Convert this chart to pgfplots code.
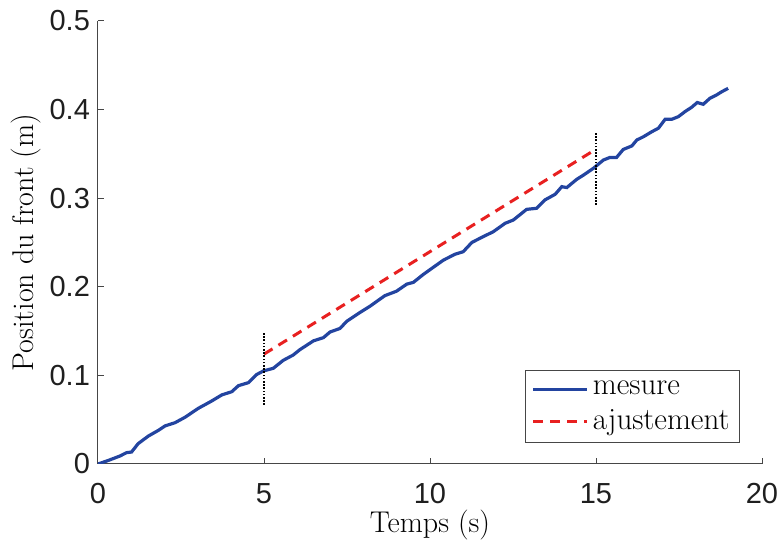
\documentclass[border=0pt]{standalone}
\usepackage{fontspec}
\usepackage{pgfplots}
\pgfplotsset{compat=1.18}
\newfontfamily\tickfont{Liberation Sans}
\definecolor{mesblue}{RGB}{35,68,160}
\definecolor{ajred}{RGB}{232,32,32}
\definecolor{axgray}{RGB}{70,70,70}

\begin{document}
\begin{tikzpicture}
\begin{axis}[
    name=ax,
    width=332pt, height=221.5pt,
    scale only axis,
    xmin=0, xmax=20, ymin=0, ymax=0.5,
    axis x line*=bottom, axis y line*=left,
    axis line style={axgray, line width=0.5pt},
    tick style={axgray, line width=0.5pt},
    tick align=inside,
    major tick length=3pt,
    xtick={0,5,10,15,20},
    ytick={0,0.1,0.2,0.3,0.4,0.5},
    yticklabel style={/pgf/number format/fixed, /pgf/number format/precision=1},
    /pgf/number format/assume math mode=true,
    ticklabel style={font=\tickfont\fontsize{14.5}{17}\selectfont, text=black!88},
    xticklabel style={yshift=-6pt},
    yticklabel style={xshift=-0.5pt},
    xlabel={Temps (s)},
    ylabel={Position du front (m)},
    label style={font=\fontsize{15}{18}\selectfont},
    xlabel style={yshift=3.5pt},
    ylabel style={yshift=-2.5pt},
    legend style={at={(rel axis cs:1,0)}, anchor=south east,
        xshift=-11pt, yshift=10.5pt, draw=axgray, line width=0.4pt,
        font=\fontsize{15.5}{18}\selectfont, inner xsep=3pt, inner ysep=3pt,
        row sep=2pt},
    legend cell align=left,
    legend image code/.code={\draw[#1] (0pt,0pt) -- (27pt,0pt);},
]
\addplot[mesblue, line width=1.6pt] coordinates {
(0,0.000) (0.31,0.004) (0.66,0.009) (0.86,0.0128) (1.01,0.0135) (1.21,0.023)
(1.52,0.0316) (1.82,0.038) (2.02,0.043) (2.32,0.0466) (2.62,0.0527) (3.02,0.0628)
(3.42,0.071) (3.73,0.078) (4.03,0.0816) (4.23,0.0884) (4.53,0.0918) (4.78,0.101)
(4.98,0.105) (5.28,0.108) (5.58,0.117) (5.88,0.123) (6.08,0.129) (6.49,0.139)
(6.79,0.1426) (6.99,0.149) (7.29,0.153) (7.49,0.161) (7.89,0.171) (8.19,0.178)
(8.49,0.186) (8.64,0.190) (8.99,0.195) (9.30,0.203) (9.50,0.205) (9.80,0.214)
(10.1,0.222) (10.4,0.230) (10.75,0.2367) (11.0,0.2396) (11.26,0.250) (11.6,0.2566)
(11.9,0.262) (12.26,0.2716) (12.51,0.2754) (12.91,0.2874) (13.21,0.2886) (13.46,0.298)
(13.77,0.3044) (13.97,0.313) (14.12,0.312) (14.42,0.3213) (14.62,0.326) (14.92,0.3337)
(15.22,0.343) (15.42,0.346) (15.62,0.346) (15.82,0.355) (16.08,0.359) (16.23,0.3657)
(16.43,0.3694) (16.68,0.375) (16.88,0.379) (17.08,0.389) (17.28,0.389) (17.48,0.392)
(17.68,0.3977) (17.88,0.4026) (18.05,0.408) (18.23,0.406) (18.43,0.4127) (18.63,0.4165)
(18.78,0.420) (18.98,0.424)
};
\addlegendentry{mesure}
\addplot[ajred, line width=1.5pt, dash pattern=on 5pt off 3.5pt] coordinates {
(5,0.124) (14.9,0.353)
};
\addlegendentry{ajustement}
\addplot[black, line width=0.8pt, dash pattern=on 0.8pt off 0.8pt, forget plot] coordinates {
(5,0.0666) (5,0.148)
};
\addplot[black, line width=0.8pt, dash pattern=on 0.8pt off 0.8pt, forget plot] coordinates {
(15,0.2923) (15,0.3736)
};
\end{axis}
\pgfresetboundingbox
\path[use as bounding box] ([xshift=-49pt,yshift=-40pt]ax.south west)
    rectangle ([xshift=7.5pt,yshift=10.5pt]ax.north east);
\end{tikzpicture}
\end{document}
